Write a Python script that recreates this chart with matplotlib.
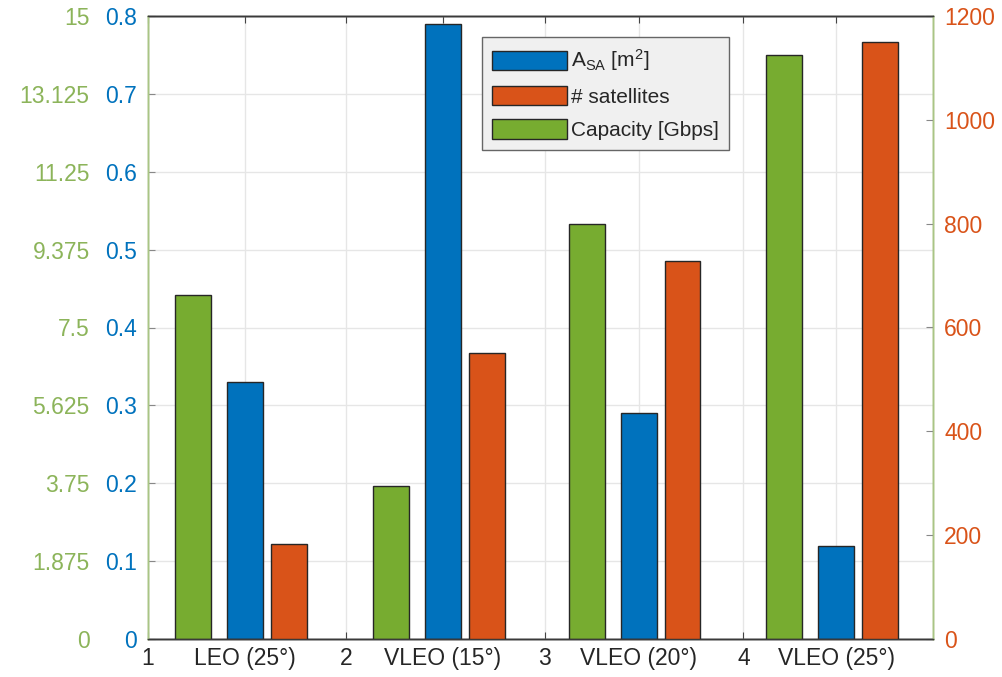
import matplotlib
matplotlib.use("Agg")
import matplotlib.pyplot as plt
import numpy as np

plt.rcParams['font.family'] = ['Liberation Sans', 'DejaVu Sans']
plt.rcParams['mathtext.fontset'] = 'custom'
plt.rcParams['mathtext.rm'] = 'Liberation Sans'
plt.rcParams['mathtext.it'] = 'Liberation Sans'

# ---- data ----
tick_labels = ['1', 'LEO (25°)', '2', 'VLEO (15°)', '3', 'VLEO (20°)', '4', 'VLEO (25°)']
group_pos = [1.488, 2.486, 3.472, 4.468]
int_pos = [1, 2, 3, 4]
area = [0.33, 0.79, 0.29, 0.119]          # A_SA [m^2]
sats = [183, 551, 728, 1150]              # # satellites
capacity = [8.28, 3.68, 10.0, 14.06]      # Capacity [Gbps]

blue_ticks = [0, 0.1, 0.2, 0.3, 0.4, 0.5, 0.6, 0.7, 0.8]
green_ticks = [0, 1.875, 3.75, 5.625, 7.5, 9.375, 11.25, 13.125, 15]
green_labels = ['0', '1.875', '3.75', '5.625', '7.5', '9.375', '11.25', '13.125', '15']
orange_ticks = [0, 200, 400, 600, 800, 1000, 1200]

C_BLUE = '#0072BD'
C_ORANGE = '#D95319'
C_GREEN = '#77AC30'

fig = plt.figure(figsize=(10.02, 6.77), dpi=100)
ax = fig.add_axes([148/1002, 1-639/677, (933-148)/1002, (639-16)/677])
ax_g = ax.twinx()
ax_o = ax.twinx()

w = 0.181
off_g, off_b, off_o = -0.262, 0.0, 0.221
gp = np.array(group_pos)
edge = dict(edgecolor='#262626', linewidth=1.0)

hb = ax.bar(gp + off_b, area, w, color=C_BLUE, **edge, zorder=3)
hg = ax_g.bar(gp + off_g, capacity, w, color=C_GREEN, **edge, zorder=3)
ho = ax_o.bar(gp + off_o, sats, w, color=C_ORANGE, **edge, zorder=3)

ax.set_xlim(1, 4.955)
ax.set_ylim(0, 0.8)
ax_g.set_ylim(0, 15)
ax_o.set_ylim(0, 1200)

fs = 16.5
xt = sorted(int_pos + group_pos)
ax.set_xticks(xt)
ax.set_xticklabels(tick_labels, fontsize=fs, color='#262626')
ax.tick_params(axis='x', direction='in', length=5, top=True, pad=6, color='#444444')

ax.set_yticks(blue_ticks)
ax.set_yticklabels([('%g' % v) for v in blue_ticks], fontsize=fs, color=C_BLUE)
ax.tick_params(axis='y', direction='in', length=5, pad=8, color='#888888')

ax_g.yaxis.tick_left()
ax_g.set_yticks(green_ticks)
ax_g.set_yticklabels(green_labels, fontsize=fs, color='#8cb45a', ha='right')
ax_g.tick_params(axis='y', which='both', length=0, pad=42, left=True, right=False,
                 labelleft=True, labelright=False)
for t in ax_g.get_yticklabels():
    t.set_horizontalalignment('right')

ax_o.set_yticks(orange_ticks)
ax_o.set_yticklabels([str(v) for v in orange_ticks], fontsize=fs, color=C_ORANGE)
ax_o.tick_params(axis='y', direction='in', length=5, pad=8, color='#888888')

ax.grid(True, color='#e6e6e6', linewidth=1.0, zorder=0)
ax.set_axisbelow(True)

for a in (ax, ax_g, ax_o):
    a.spines['top'].set_color('#3a3a3a')
    a.spines['bottom'].set_color('#3a3a3a')
    a.spines['left'].set_color('#a9c585')
    a.spines['right'].set_color('#a9c585')
    for s in a.spines.values():
        s.set_linewidth(1.0)

leg = ax_o.legend([hb, ho, hg], [r'A$_{\mathrm{SA}}$ [m$^{2}$]', '# satellites', 'Capacity [Gbps]'],
                  loc='upper left', bbox_to_anchor=(0.4255, 0.966), borderaxespad=0,
                  fontsize=15, handlelength=3.6, handleheight=1.05, handletextpad=0.15,
                  labelspacing=0.6, borderpad=0.5, fancybox=False, framealpha=1,
                  facecolor='#f0f0f0', edgecolor='#666666')
leg.get_frame().set_linewidth(1.0)
for t in leg.get_texts():
    t.set_color('#262626')

fig.savefig('out.png', dpi=100)
